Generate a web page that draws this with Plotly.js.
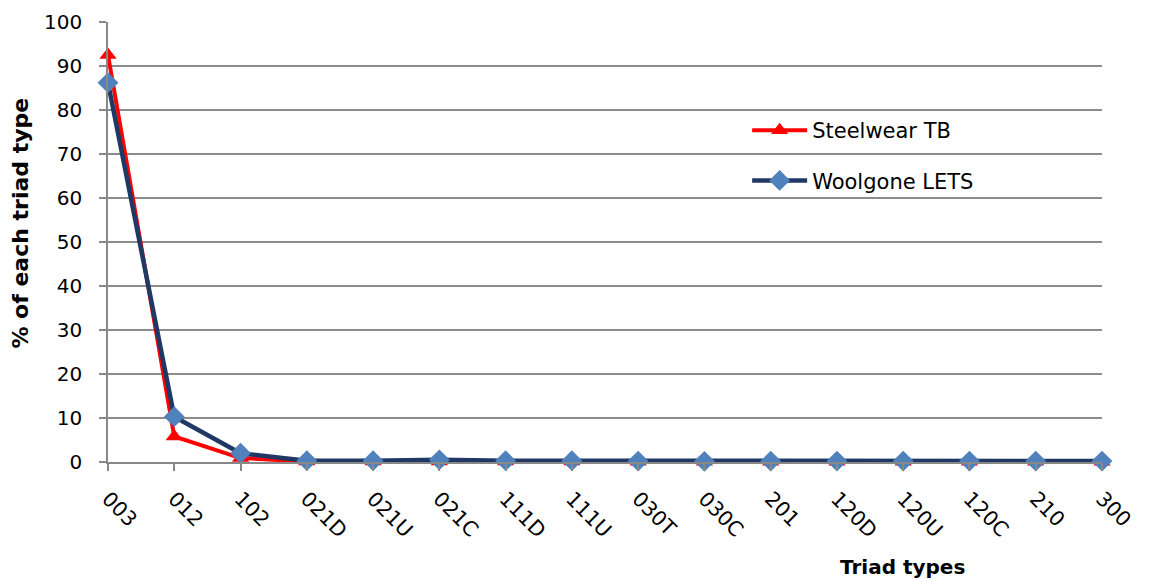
<!DOCTYPE html>
<html><head><meta charset="utf-8">
<script src="https://cdn.plot.ly/plotly-3.0.1.min.js"></script>
<style>html,body{margin:0;padding:0;background:#fff}#chart{width:1150px;height:580px}</style>
</head><body><div id="chart"></div>
<script>
const categories = ["003","012","102","021D","021U","021C","111D","111U","030T","030C","201","120D","120U","120C","210","300"];
const steelwear = [92.5, 5.8, 0.9, 0.1, 0.1, 0.1, 0.1, 0.1, 0.05, 0.05, 0.05, 0.05, 0.05, 0.05, 0.05, 0.05];
const woolgone = [86.2, 10.3, 2.0, 0.3, 0.3, 0.5, 0.3, 0.3, 0.2, 0.15, 0.2, 0.2, 0.2, 0.2, 0.2, 0.2];
const yTicks = [0,10,20,30,40,50,60,70,80,90,100];

const font = "DejaVu Sans, sans-serif";
const traces = [
  {x: categories, y: steelwear, name: "Steelwear TB", type: "scatter", mode: "lines+markers",
   legendgroup: "a", cliponaxis: false,
   line: {color: "#FF0000", width: 4}, marker: {symbol: "triangle-up", size: 15, color: "#FF0000"}},
  {x: categories, y: woolgone, name: "Woolgone LETS", type: "scatter", mode: "lines+markers",
   legendgroup: "b", cliponaxis: false,
   line: {color: "#1F3864", width: 4.5}, marker: {symbol: "diamond", size: 16, color: "#4F81BD"}}
];
const layout = {
  width: 1150, height: 580,
  margin: {l: 108, r: 48, t: 22, b: 118},
  paper_bgcolor: "#fff", plot_bgcolor: "#fff",
  font: {family: font, size: 20, color: "#000"},
  showlegend: true,
  legend: {x: 0.643, y: 0.8, xanchor: "left", yanchor: "top", bgcolor: "rgba(0,0,0,0)",
           font: {family: font, size: 21}, itemwidth: 55, tracegroupgap: 20},
  xaxis: {type: "category", range: [0, 15], showgrid: false, zeroline: false,
          showline: true, linecolor: "#888", linewidth: 1.5,
          ticks: "outside", ticklen: 7, tickcolor: "#888", tickwidth: 1.5,
          tickangle: 45, tickfont: {family: font, size: 20.5}, ticklabelstandoff: 8},
  yaxis: {range: [0, 100], tickvals: yTicks, showgrid: true, gridcolor: "#8c8c8c", gridwidth: 1.5,
          zeroline: false, showline: true, linecolor: "#888", linewidth: 1.5,
          ticks: "outside", ticklen: 7, tickcolor: "#888", tickwidth: 1.5,
          tickfont: {family: font, size: 20}, ticklabelstandoff: 13},
  annotations: [
    {text: "<b>Triad types</b>", xref: "paper", yref: "paper", x: 0.799, y: -0.239, xanchor: "center", yanchor: "middle",
     showarrow: false, font: {family: font, size: 20}},
    {text: "<b>% of each triad type</b>", xref: "paper", yref: "paper", x: -0.088, y: 0.543, xanchor: "center", yanchor: "middle",
     textangle: -90, showarrow: false, font: {family: font, size: 22}}
  ]
};
Plotly.newPlot("chart", traces, layout, {displayModeBar: false});
</script></body></html>
